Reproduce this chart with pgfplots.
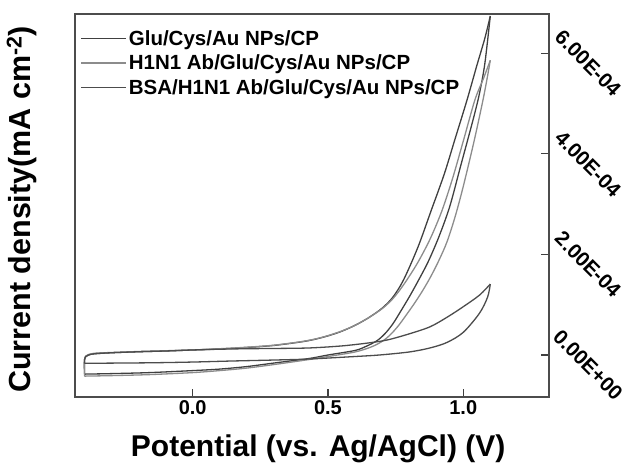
\documentclass[border=0pt]{standalone}
\usepackage{pgfplots}
\pgfplotsset{compat=1.18}
\usepackage{fontspec}
\setmainfont{Liberation Sans}
\definecolor{cA}{gray}{0.25}
\definecolor{cB}{gray}{0.55}
\definecolor{cC}{gray}{0.30}
\begin{document}
\begin{tikzpicture}
\begin{axis}[
  scale only axis, width=474pt, height=383pt,
  xmin=-0.435, xmax=1.317, ymin=-0.835, ymax=6.78,
  xtick={0,0.5,1}, xticklabels={0.0,0.5,1.0},
  ytick={0,2,4,6}, yticklabels={0.00E+00,2.00E-04,4.00E-04,6.00E-04},
  xtick pos=bottom, ytick pos=right, yticklabel pos=right,
  tick align=inside, major tick length=8pt,
  axis line style={draw=black!70, line width=1.1pt},
  every tick/.style={draw=black!75, line width=1.1pt},
  xticklabel style={font=\bfseries\fontsize{20}{20}\selectfont},
  yticklabel style={font=\bfseries\fontsize{20.5}{20.5}\selectfont, xshift=39pt, yshift=-10pt, rotate=-45, anchor=center},
  xlabel={Potential (vs. Ag/AgCl) (V)},
  ylabel={Current density(mA cm\textsuperscript{-2})},
  xlabel style={font=\bfseries\fontsize{30}{30}\selectfont, at={(axis description cs:0.513,-0.135)}, anchor=center},
  ylabel style={font=\bfseries\fontsize{30.5}{30.5}\selectfont, at={(axis description cs:-0.112,0.49)}, anchor=center},
  legend style={at={(axis description cs:0.005,0.968)}, anchor=north west, draw=none, fill=none,
    font=\bfseries\fontsize{20.5}{20.5}\selectfont, row sep=4pt},
  legend cell align=left,
  legend image code/.code={\draw[#1] (0pt,0pt) -- (45pt,0pt);},
  every axis plot/.append style={line width=1.3pt, smooth},
]
% Glu/Cys/Au NPs/CP
\addplot[cA] coordinates {
(-0.40,-0.38) (-0.40,-0.10) (-0.395,-0.03) (-0.385,0.00) (-0.37,0.02) (-0.35,0.03)
(-0.30,0.045) (-0.20,0.065) (-0.10,0.08) (0.00,0.10) (0.10,0.12) (0.20,0.15)
(0.30,0.19) (0.40,0.26) (0.45,0.31) (0.50,0.38) (0.55,0.47) (0.60,0.59)
(0.65,0.74) (0.70,0.93) (0.74,1.15) (0.78,1.50) (0.833,2.15) (0.88,2.85)
(0.93,3.6) (0.97,4.3) (1.014,5.07) (1.05,5.75) (1.08,6.3) (1.10,6.74)
};
\addlegendentry{Glu/Cys/Au NPs/CP}
\addplot[cA, forget plot] coordinates {
(1.10,6.74) (1.08,5.8) (1.06,5.2) (1.036,4.67) (0.99,3.75) (0.95,2.95) (0.91,2.35)
(0.87,1.85) (0.83,1.44) (0.80,1.15) (0.77,0.88) (0.74,0.62) (0.71,0.42) (0.68,0.28)
(0.64,0.17) (0.60,0.09) (0.50,0.00) (0.43,-0.07) (0.30,-0.16) (0.20,-0.23) (0.10,-0.28)
(0.00,-0.31) (-0.16,-0.35) (-0.30,-0.37) (-0.40,-0.38)
};
% H1N1 Ab/Glu/Cys/Au NPs/CP
\addplot[cB] coordinates {
(-0.40,-0.42) (-0.40,-0.10) (-0.395,-0.02) (-0.385,0.01) (-0.37,0.03) (-0.35,0.04)
(-0.30,0.05) (-0.20,0.07) (-0.10,0.085) (0.00,0.10) (0.10,0.125) (0.20,0.155)
(0.30,0.195) (0.40,0.265) (0.45,0.315) (0.50,0.385) (0.55,0.475) (0.60,0.59)
(0.65,0.74) (0.70,0.92) (0.74,1.12) (0.78,1.40) (0.83,1.82) (0.877,2.3)
(0.92,2.85) (0.96,3.5) (1.00,4.25) (1.043,5.07) (1.075,5.5) (1.10,5.86)
};
\addlegendentry{H1N1 Ab/Glu/Cys/Au NPs/CP}
\addplot[cB, forget plot] coordinates {
(1.10,5.86) (1.09,5.55) (1.073,5.07) (1.04,4.25) (1.00,3.35) (0.97,2.75) (0.94,2.25)
(0.91,1.88) (0.88,1.56) (0.85,1.28) (0.82,1.03) (0.79,0.80) (0.76,0.58) (0.73,0.40)
(0.70,0.27) (0.66,0.16) (0.60,0.06) (0.50,-0.03) (0.43,-0.09) (0.30,-0.19)
(0.20,-0.26) (0.10,-0.31) (0.00,-0.35) (-0.16,-0.39) (-0.30,-0.41) (-0.40,-0.42)
};
% BSA/H1N1 Ab/Glu/Cys/Au NPs/CP
\addplot[cC] coordinates {
(-0.40,-0.165) (-0.40,-0.10) (-0.395,-0.03) (-0.385,0.00) (-0.37,0.02) (-0.35,0.03)
(-0.30,0.045) (-0.20,0.065) (-0.10,0.08) (0.00,0.10) (0.10,0.115) (0.20,0.125)
(0.30,0.13) (0.43,0.14) (0.55,0.18) (0.65,0.24) (0.72,0.30) (0.80,0.42)
(0.877,0.56) (0.94,0.75) (1.00,0.96) (1.06,1.19) (1.10,1.41)
};
\addlegendentry{BSA/H1N1 Ab/Glu/Cys/Au NPs/CP}
\addplot[cC, forget plot] coordinates {
(1.10,1.41) (1.09,1.15) (1.06,0.83) (1.00,0.45) (0.94,0.25) (0.877,0.14) (0.80,0.06)
(0.69,0.00) (0.60,-0.03) (0.43,-0.08) (0.30,-0.10) (0.14,-0.12) (0.00,-0.14)
(-0.16,-0.155) (-0.40,-0.165)
};
\end{axis}
\pgfresetboundingbox
\path[use as bounding box] (-75pt,-75pt) rectangle (555pt,397pt);
\end{tikzpicture}
\end{document}
